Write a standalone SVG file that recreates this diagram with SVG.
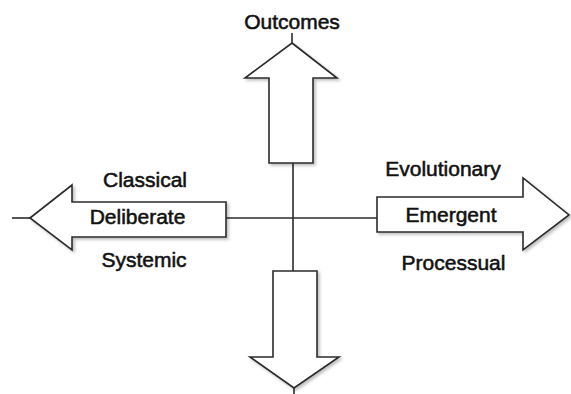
<svg xmlns="http://www.w3.org/2000/svg" width="571" height="394" viewBox="0 0 571 394">
<style>
.arrow{fill:#fff;stroke:#2b2b2b;stroke-width:1.6;stroke-linejoin:miter;filter:url(#sh)}
.line{stroke:#2b2b2b;stroke-width:1.6;fill:none}
.lbl{font-family:"Liberation Sans",Arial,sans-serif;font-size:21px;fill:#111;stroke:#111;stroke-width:0.55;text-anchor:middle}
</style>
<defs>
<filter id="sh" x="-10%" y="-10%" width="130%" height="130%">
<feDropShadow dx="2" dy="2" stdDeviation="1.5" flood-color="#000" flood-opacity="0.25"/>
</filter>
</defs>
<rect width="571" height="394" fill="#fff"/>
<g id="connectors">
<line class="line" x1="293" y1="163" x2="293" y2="271"/>
<line class="line" x1="226" y1="218" x2="377" y2="218"/>
<line class="line" x1="292" y1="33" x2="292" y2="43"/>
<line class="line" x1="12" y1="218" x2="30" y2="218"/>
<line class="line" x1="294" y1="388" x2="294" y2="394"/>
</g>
<g id="up-arrow">
<polygon class="arrow" points="292,43 337,78 313,78 313,163 269,163 269,78 245,78"/>
<text class="lbl" x="292" y="29">Outcomes</text>
</g>
<g id="down-arrow">
<polygon class="arrow" points="273,271 317,271 317,357 339,357 294,388 250,357 273,357"/>
</g>
<g id="left-arrow">
<polygon class="arrow" points="30,218 72,185 72,202 226,202 226,237 72,237 72,250"/>
<text class="lbl" x="145" y="187">Classical</text>
<text class="lbl" x="137.5" y="224">Deliberate</text>
<text class="lbl" x="144" y="267">Systemic</text>
</g>
<g id="right-arrow">
<polygon class="arrow" points="377,197 523,197 523,178 569,215 523,250 523,232 377,232"/>
<text class="lbl" x="443" y="176">Evolutionary</text>
<text class="lbl" x="451" y="222">Emergent</text>
<text class="lbl" x="453.5" y="270">Processual</text>
</g>
</svg>
